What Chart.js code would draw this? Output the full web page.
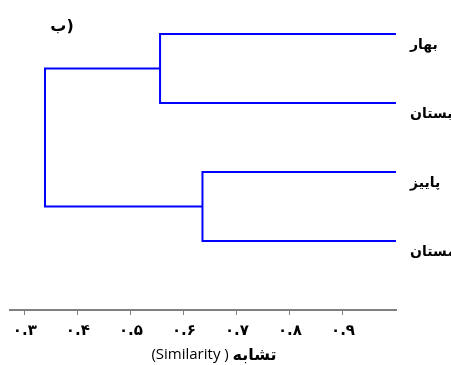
<!DOCTYPE html>
<html>
<head>
<meta charset="utf-8">
<script src="https://cdn.jsdelivr.net/npm/chart.js@4"></script>
<style>
  html, body { margin: 0; padding: 0; background: #fff; }
  #wrap { width: 451px; height: 365px; }
</style>
</head>
<body>
<div id="wrap"><canvas id="dendro" width="451" height="365"></canvas></div>
<script>
// leaves of the dendrogram, top to bottom
const leaves = ['بهار', 'تابستان', 'پاییز', 'زمستان'];
const leafSimilarity = 1.0;
// merges: node index < 4 is a leaf, otherwise merge (index - 4)
const mergeLeft = [0, 2, 4];
const mergeRight = [1, 3, 5];
const mergeSimilarity = [0.555, 0.635, 0.338];
// x axis
const tickValues = [0.3, 0.4, 0.5, 0.6, 0.7, 0.8, 0.9];
const tickLabels = ['۰.۳', '۰.۴', '۰.۵', '۰.۶', '۰.۷', '۰.۸', '۰.۹'];

// node positions (x = similarity, y = row)
const nodeX = [], nodeY = [];
leaves.forEach((l, i) => { nodeX.push(leafSimilarity); nodeY.push(leaves.length - 1 - i); });
mergeSimilarity.forEach((s, k) => {
  const a = mergeLeft[k], b = mergeRight[k];
  nodeX.push(s);
  nodeY.push((nodeY[a] + nodeY[b]) / 2);
});

// one U shaped line per merge
const datasets = mergeSimilarity.map((s, k) => {
  const a = mergeLeft[k], b = mergeRight[k];
  return {
    data: [
      { x: nodeX[a], y: nodeY[a] },
      { x: s, y: nodeY[a] },
      { x: s, y: nodeY[b] },
      { x: nodeX[b], y: nodeY[b] }
    ],
    showLine: true,
    borderColor: '#0000ff',
    borderWidth: 2,
    pointRadius: 0,
    tension: 0,
    clip: false
  };
});

// leaf names, panel letter and axis title
const extraText = {
  id: 'extraText',
  afterDraw(chart) {
    const ctx = chart.ctx;
    const ys = chart.scales.y;
    ctx.save();
    ctx.fillStyle = '#000';
    ctx.textBaseline = 'middle';
    ctx.textAlign = 'left';
    ctx.font = 'bold 14px "DejaVu Sans"';
    leaves.forEach((l, i) => {
      ctx.fillText(l, 410, ys.getPixelForValue(nodeY[i]) + 11);
    });

    // panel letter
    ctx.textAlign = 'center';
    ctx.font = 'bold 16px "DejaVu Sans"';
    ctx.fillText('ب)', 62, 27);

    // axis title: "(Similarity ) تشابه"
    const p1 = '(Similarity ) ';
    const p2 = 'تشابه';
    ctx.font = '15px "Open Sans"';
    const w1 = ctx.measureText(p1).width;
    ctx.font = 'bold 16px "DejaVu Sans"';
    const w2 = ctx.measureText(p2).width;
    let x0 = 214 - (w1 + w2) / 2;
    ctx.textAlign = 'left';
    ctx.font = '15px "Open Sans"';
    ctx.fillText(p1, x0, 355);
    ctx.font = 'bold 16px "DejaVu Sans"';
    ctx.fillText(p2, x0 + w1, 356);
    ctx.restore();
  }
};

new Chart(document.getElementById('dendro').getContext('2d'), {
  type: 'scatter',
  data: { datasets: datasets },
  options: {
    responsive: false,
    animation: false,
    layout: { padding: { left: 10, right: 55, top: 10, bottom: 18 } },
    plugins: { legend: { display: false }, tooltip: { enabled: false } },
    scales: {
      x: {
        type: 'linear',
        min: 0.272,
        max: 1.0,
        afterBuildTicks(axis) { axis.ticks = tickValues.map(v => ({ value: v })); },
        ticks: {
          autoSkip: false,
          maxRotation: 0,
          padding: 7,
          color: '#000',
          font: { family: 'DejaVu Sans', size: 15, weight: 'bold' },
          callback: (v, i) => tickLabels[i]
        },
        grid: { drawOnChartArea: false, drawTicks: true, tickLength: 5, color: '#808080', lineWidth: 1 },
        border: { display: true, color: '#808080', width: 2 }
      },
      y: {
        type: 'linear',
        display: false,
        min: -1.0,
        max: 3.348
      }
    }
  },
  plugins: [extraText]
});
</script>
</body>
</html>
